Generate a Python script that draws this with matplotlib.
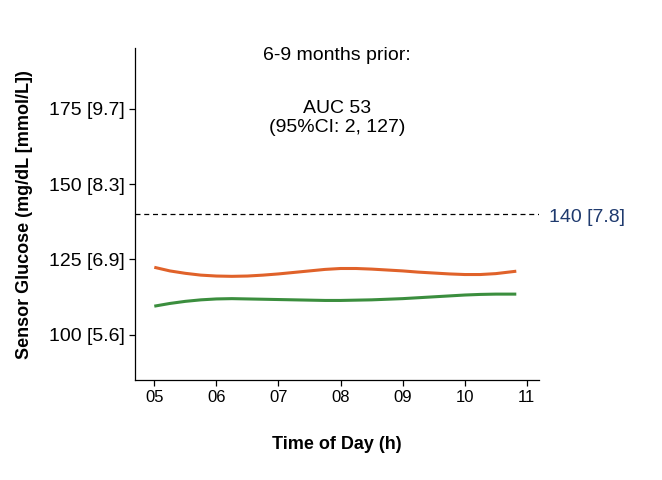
import matplotlib
matplotlib.use('Agg')
import matplotlib.pyplot as plt

plt.rcParams['font.family'] = ['Liberation Sans', 'DejaVu Sans']

# Heures (h) et glycémie (mg/dL)
hours = [5.0, 5.25, 5.5, 5.75, 6.0, 6.25, 6.5, 6.75, 7.0, 7.25, 7.5, 7.75,
         8.0, 8.25, 8.5, 8.75, 9.0, 9.25, 9.5, 9.75, 10.0, 10.25, 10.5, 10.83]
orange_vals = [122.4, 121.2, 120.4, 119.8, 119.5, 119.4, 119.5, 119.8, 120.2,
               120.7, 121.2, 121.7, 122.0, 122.0, 121.8, 121.5, 121.2, 120.8,
               120.5, 120.2, 120.0, 120.0, 120.3, 121.1]
green_vals = [109.5, 110.4, 111.1, 111.6, 111.9, 112.0, 111.9, 111.8, 111.7,
              111.6, 111.5, 111.4, 111.4, 111.5, 111.6, 111.8, 112.0, 112.3,
              112.6, 112.9, 113.2, 113.4, 113.5, 113.5]

x_ticks = [5, 6, 7, 8, 9, 10, 11]
x_labels = ['05', '06', '07', '08', '09', '10', '11']
y_ticks = [100, 125, 150, 175]
y_labels = ['100 [5.6]', '125 [6.9]', '150 [8.3]', '175 [9.7]']
threshold = 140
threshold_label = '140 [7.8]'

fig = plt.figure(figsize=(6.62, 4.8), dpi=100)
ax = fig.add_axes([0.204, 0.2083, 0.6106, 0.6907])

ax.plot(hours, orange_vals, color='#E0622A', linewidth=2.2, solid_capstyle='butt')
ax.plot(hours, green_vals, color='#3B8E3E', linewidth=2.2, solid_capstyle='butt')

# ligne de seuil + étiquette à droite de l'axe
ax.axhline(threshold, color='black', linestyle=(0, (4, 3)), linewidth=0.9)
ax.annotate(threshold_label, xy=(1.025, threshold), xycoords=ax.get_yaxis_transform(),
            xytext=(0, -3), textcoords='offset pixels',
            ha='left', va='center', fontsize=14, color='#1F3A6E')

ax.set_xlim(4.69, 11.2)
ax.set_ylim(85, 195)
ax.set_xticks(x_ticks)
ax.set_xticklabels(x_labels, fontsize=12)
ax.set_yticks(y_ticks)
ax.set_yticklabels(y_labels, fontsize=14)
ax.tick_params(direction='out', length=4, width=0.9)

for side in ['top', 'right']:
    ax.spines[side].set_visible(False)
for side in ['left', 'bottom']:
    ax.spines[side].set_linewidth(0.9)

ax.set_xlabel('Time of Day (h)', fontsize=13, fontweight='bold', labelpad=22)
ax.set_ylabel('Sensor Glucose (mg/dL [mmol/L])', fontsize=13,
              fontweight='bold', labelpad=11)

ax.text(0.5, 0.98, '6-9 months prior:', transform=ax.transAxes,
        ha='center', va='center', fontsize=14)
ax.text(0.5, 0.79, 'AUC 53\n(95%CI: 2, 127)', transform=ax.transAxes,
        ha='center', va='center', fontsize=14, linespacing=1.2)

fig.savefig('out.png', dpi=100)
